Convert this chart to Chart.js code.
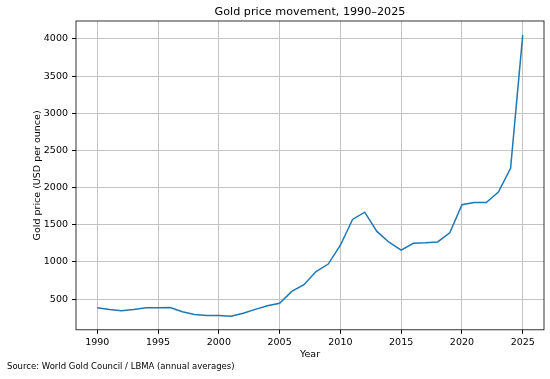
<!DOCTYPE html>
<html>
<head>
<meta charset="utf-8">
<script src="https://cdn.jsdelivr.net/npm/chart.js@4"></script>
<style>
  html, body { margin: 0; padding: 0; background: #fff; }
  #wrap { width: 550px; height: 379px; }
</style>
</head>
<body>
<div id="wrap"><canvas id="goldChart" width="550" height="379"></canvas></div>
<script>
const years = [1990, 1991, 1992, 1993, 1994, 1995, 1996, 1997, 1998, 1999,
  2000, 2001, 2002, 2003, 2004, 2005, 2006, 2007, 2008, 2009,
  2010, 2011, 2012, 2013, 2014, 2015, 2016, 2017, 2018, 2019,
  2020, 2021, 2022, 2023, 2024, 2025];
const goldPrice = [384, 362, 344, 360, 384, 384, 388, 331, 294, 279,
  279, 271, 310, 363, 410, 445, 604, 695, 872, 972,
  1225, 1572, 1669, 1411, 1266, 1160, 1251, 1257, 1269, 1393,
  1770, 1799, 1800, 1941, 2260, 4050];
const yearTicks = [1990, 1995, 2000, 2005, 2010, 2015, 2020, 2025];
const priceTicks = [500, 1000, 1500, 2000, 2500, 3000, 3500, 4000];
const titleText = "Gold price movement, 1990\u20132025";
const sourceText = "Source: World Gold Council / LBMA (annual averages)";

const font = "'DejaVu Sans', sans-serif";

// matplotlib-style full box around the plot area, title centred over the axes
const frame = {
  id: "frame",
  afterDraw(chart) {
    const { ctx, chartArea: a } = chart;
    ctx.save();
    ctx.strokeStyle = "#000";
    ctx.lineWidth = 0.8;
    ctx.strokeRect(a.left, a.top, a.right - a.left, a.bottom - a.top);
    ctx.fillStyle = "#000";
    ctx.font = "11.2px " + font;
    ctx.textAlign = "center";
    ctx.textBaseline = "alphabetic";
    ctx.fillText(titleText, (a.left + a.right) / 2, 15);
    ctx.restore();
  }
};

const ctx = document.getElementById("goldChart").getContext("2d");
new Chart(ctx, {
  type: "line",
  data: {
    datasets: [{
      data: years.map((y, i) => ({ x: y, y: goldPrice[i] })),
      borderColor: "#1f77b4",
      borderWidth: 1.5,
      pointRadius: 0,
      tension: 0,
      fill: false
    }]
  },
  options: {
    responsive: false,
    animation: false,
    layout: { padding: { left: 7, right: 6, top: 21, bottom: 0 } },
    plugins: {
      legend: { display: false },
      tooltip: { enabled: false },
      title: { display: false },
      subtitle: {
        display: true,
        text: sourceText,
        position: "bottom",
        align: "start",
        color: "#000",
        font: { family: font, size: 8.5, weight: "normal" },
        padding: { top: 2, bottom: 7 }
      }
    },
    scales: {
      x: {
        type: "linear",
        min: 1988.25,
        max: 2026.75,
        afterFit: (s) => { s.height = 30; },
        afterBuildTicks: (s) => { s.ticks = yearTicks.map((v) => ({ value: v })); },
        ticks: {
          color: "#000",
          font: { family: font, size: 9.5 },
          padding: 3,
          maxRotation: 0,
          callback: (v) => String(v)
        },
        grid: { color: "#c4c4c4", lineWidth: 1, tickColor: "#000", tickLength: 4 },
        border: { display: false },
        title: {
          display: true,
          text: "Year",
          color: "#000",
          font: { family: font, size: 9.5 },
          padding: { top: 0, bottom: 0 }
        }
      },
      y: {
        min: 88,
        max: 4240,
        afterFit: (s) => { s.width = 69; },
        afterBuildTicks: (s) => { s.ticks = priceTicks.map((v) => ({ value: v })); },
        ticks: {
          color: "#000",
          font: { family: font, size: 9.5 },
          padding: 4,
          callback: (v) => String(v)
        },
        grid: { color: "#c4c4c4", lineWidth: 1, tickColor: "#000", tickLength: 4 },
        border: { display: false },
        title: {
          display: true,
          text: "Gold price (USD per ounce)",
          color: "#000",
          font: { family: font, size: 9.5 },
          padding: { top: 25, bottom: 0 }
        }
      }
    }
  },
  plugins: [frame]
});
</script>
</body>
</html>
